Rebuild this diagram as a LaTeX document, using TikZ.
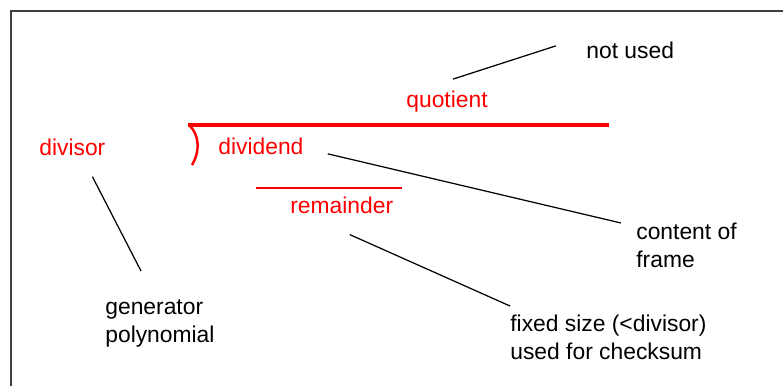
\documentclass[tikz,border=0pt]{standalone}
\usepackage{fontspec}
\setmainfont{Liberation Sans}
\usetikzlibrary{calc}
\usepackage{xcolor}
\definecolor{framegray}{RGB}{64,64,64}
\definecolor{termred}{RGB}{255,0,0}
\definecolor{notetext}{RGB}{0,0,0}

\tikzset{
  term/.style={anchor=base west,inner sep=0pt,text=termred,font=\fontsize{13}{15.9}\selectfont},
  note/.style={anchor=north west,inner sep=0pt,text=notetext,align=left,font=\fontsize{13}{15.9}\selectfont},
  leader/.style={draw=black,line width=0.7pt}
}

\begin{document}
\begin{tikzpicture}[x=0.02cm,y=-0.02cm]
  % --- background and frame ---
  \useasboundingbox (0,0) rectangle (783,386);
  \fill[white] (0,0) rectangle (783,386);
  \draw[framegray,line width=1.6pt] (11,386) -- (11,11) -- (783,11);

  % --- division bracket ---
  \draw[termred,line width=1.8pt] (188,125) -- (609,125);
  \draw[termred,line width=1.4pt] (189,125) .. controls (200,135) and (200,152) .. (192,165);
  \draw[termred,line width=0.9pt] (256,188) -- (402,188);

  % --- terms of the division ---
  \node[term] (quotient) at (406,107) {quotient};
  \node[term] (divisor) at (39,155) {divisor};
  \node[term] (dividend) at (218,154) {dividend};
  \node[term] (remainder) at (290,213) {remainder};

  % --- notes ---
  \node[note,anchor=base west] (notused) at (586,58) {not used};
  \node[note] (content) at (636,223) {content of\\frame};
  \node[note] (generator) at (105,299) {generator\\polynomial};
  \node[note] (checksum) at (510,315) {fixed size (<divisor)\\used for checksum};

  % --- leader lines ---
  \draw[leader] ($(quotient.north)+(6,-11)$) -- ($(notused.west)+(-30,-4)$);
  \draw[leader] ($(dividend.east)+(24,8)$) -- ($(content.north west)+(-15,0)$);
  \draw[leader] ($(remainder.south)+(8,21)$) -- ($(checksum.north west)+(0,-9)$);
  \draw[leader] ($(divisor.south)+(20,21)$) -- ($(generator.north west)+(36,-28)$);

\end{tikzpicture}
\end{document}
